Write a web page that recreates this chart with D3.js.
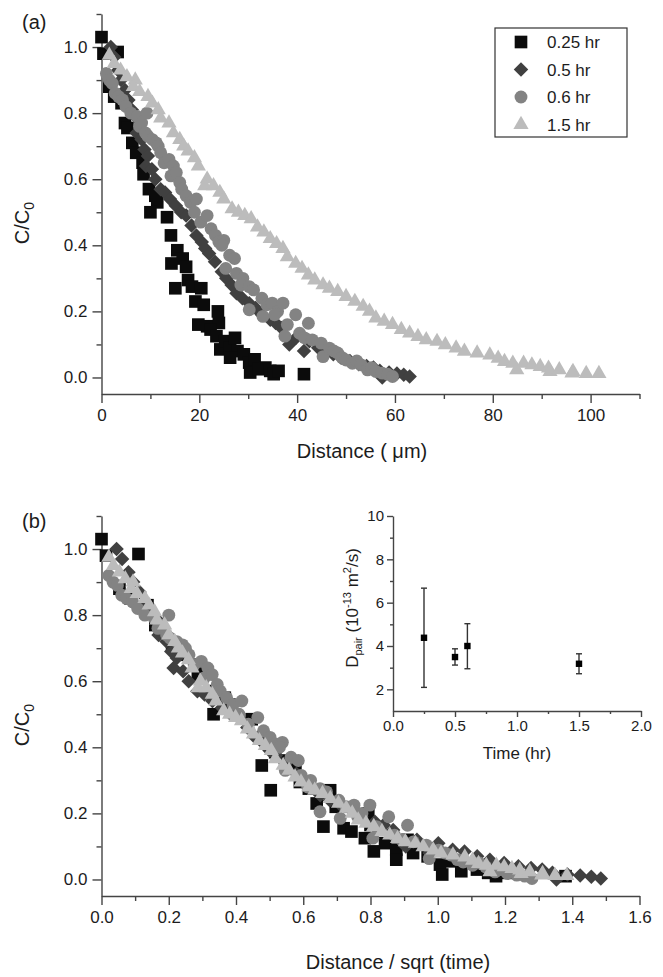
<!DOCTYPE html>
<html>
<head>
<meta charset="utf-8">
<script src="https://cdn.jsdelivr.net/npm/d3@7"></script>
<style>
    body { margin: 0; background: #fff; }
    svg text { font-family: "Liberation Sans", Arial, sans-serif; fill: #1c1c1c; }
    .axis path, .axis line { stroke: #444; stroke-width: 1.4; }
    .axis text { font-size: 17px; }
    .inset .axis text { font-size: 15px; }
</style>
</head>
<body>
<svg id="chart" width="663" height="977"></svg>
<script>
// series labels and the hours they stand for
const seriesLabels = ["0.25 hr", "0.5 hr", "0.6 hr", "1.5 hr"];
const seriesHours = [0.25, 0.5, 0.6, 1.5];

// [distance (um), C/C0]
const points025 = [[0.0,1.03],[0.4,0.98],[3.3,0.985],[1.6,0.88],[2.6,0.85],[4.1,0.83],[4.8,0.77],[5.3,0.755],
    [6.3,0.71],[7.1,0.68],[8.4,0.65],[8.6,0.615],[9.7,0.57],[11.0,0.55],[11.4,0.53],[10.0,0.50],[13.4,0.485],
    [14.2,0.43],[14.3,0.345],[15.5,0.385],[16.6,0.36],[17.3,0.335],[15.1,0.27],[17.7,0.295],[18.5,0.275],
    [20.4,0.27],[19.2,0.23],[20.9,0.22],[19.8,0.16],[21.6,0.155],[23.8,0.20],[24.0,0.165],[22.3,0.145],
    [23.5,0.125],[24.3,0.085],[25.3,0.11],[26.3,0.09],[27.3,0.12],[27.8,0.08],[26.3,0.06],[29.1,0.07],
    [30.2,0.045],[31.3,0.055],[30.4,0.015],[32.1,0.025],[33.5,0.03],[34.5,0.02],[35.2,0.01],[36.2,0.02],[41.4,0.01]];

const points05 = [[1.9,1.0],[2.6,0.97],[3.4,0.93],[4.0,0.90],[4.8,0.87],[5.5,0.84],[6.2,0.81],[6.9,0.79],
    [7.2,0.74],[8.2,0.72],[8.8,0.69],[9.1,0.64],[9.5,0.67],[10.3,0.63],[11.0,0.60],[12.1,0.57],[13.0,0.56],
    [14.0,0.54],[15.2,0.52],[16.3,0.50],[17.3,0.49],[18.4,0.46],[19.4,0.43],[20.5,0.41],[21.2,0.39],[22.0,0.375],
    [23.2,0.35],[24.6,0.32],[25.5,0.30],[26.6,0.28],[27.6,0.255],[28.8,0.24],[30.2,0.225],[31.5,0.21],
    [32.8,0.19],[34.5,0.175],[35.6,0.165],[36.8,0.15],[38.4,0.10],[39.8,0.12],[41.4,0.08],[42.5,0.11],
    [44.3,0.09],[45.8,0.085],[47.4,0.07],[49.0,0.06],[50.8,0.05],[52.6,0.04],[54.2,0.035],[55.6,0.03],
    [56.9,0.02],[57.4,0.0],[58.8,0.015],[60.4,0.012],[61.8,0.008],[63.0,0.003]];

const points06 = [[1.0,0.92],[1.6,0.90],[2.2,0.89],[2.8,0.86],[3.5,0.85],[4.3,0.84],[5.0,0.82],[6.0,0.80],
    [7.3,0.79],[7.8,0.76],[8.2,0.77],[9.3,0.80],[9.0,0.74],[9.5,0.73],[10.4,0.72],[11.2,0.71],[11.6,0.70],
    [12.1,0.68],[12.8,0.65],[13.8,0.66],[14.7,0.64],[14.2,0.61],[15.3,0.62],[16.0,0.59],[16.4,0.57],
    [17.3,0.55],[18.2,0.53],[19.4,0.54],[19.0,0.50],[20.3,0.47],[21.6,0.49],[22.4,0.45],[23.3,0.43],
    [24.0,0.41],[25.0,0.415],[24.6,0.40],[26.2,0.37],[27.2,0.36],[25.4,0.33],[27.6,0.315],[28.9,0.30],
    [28.5,0.28],[30.2,0.275],[31.1,0.265],[32.8,0.24],[30.2,0.205],[33.0,0.185],[33.8,0.22],[34.9,0.225],
    [36.0,0.20],[37.1,0.225],[35.4,0.19],[37.5,0.125],[38.0,0.16],[39.7,0.19],[40.5,0.134],[42.3,0.164],
    [41.5,0.12],[43.1,0.114],[44.9,0.104],[45.3,0.063],[46.6,0.089],[47.5,0.08],[48.3,0.074],[49.2,0.06],
    [50.0,0.053],[51.3,0.043],[52.2,0.05],[53.1,0.038],[54.4,0.023],[55.2,0.03],[56.1,0.018],[57.4,0.013],
    [58.5,0.01],[59.5,0.003]];

const points15 = [[1.6,0.975],[2.6,0.95],[3.9,0.93],[5.2,0.91],[6.9,0.90],[6.5,0.88],[7.8,0.865],[9.5,0.85],
    [10.4,0.83],[11.6,0.81],[12.1,0.785],[13.8,0.77],[14.7,0.74],[16.0,0.72],[16.8,0.70],[17.7,0.685],
    [19.0,0.665],[19.8,0.64],[21.6,0.60],[21.1,0.58],[22.9,0.58],[24.2,0.56],[25.0,0.54],[26.7,0.51],
    [28.0,0.50],[29.3,0.49],[30.6,0.48],[31.9,0.455],[33.2,0.44],[34.5,0.42],[35.8,0.405],[37.1,0.39],
    [38.0,0.365],[39.7,0.345],[41.0,0.33],[42.3,0.31],[43.6,0.295],[45.3,0.28],[46.6,0.27],[48.3,0.26],
    [50.0,0.245],[51.8,0.23],[53.5,0.215],[54.8,0.20],[56.1,0.18],[57.8,0.17],[59.5,0.16],[61.3,0.145],
    [63.0,0.134],[64.7,0.124],[66.4,0.114],[68.6,0.109],[70.3,0.099],[72.5,0.089],[74.2,0.079],[76.8,0.074],
    [79.4,0.068],[81.1,0.058],[82.4,0.048],[84.1,0.043],[84.9,0.023],[86.3,0.043],[88.0,0.038],[89.7,0.033],
    [91.4,0.028],[91.7,0.018],[93.6,0.023],[96.4,0.018],[96.2,0.013],[99.1,0.012],[101.7,0.012]];

const seriesPoints = [points025, points05, points06, points15];

// inset: D_pair vs time, with error bars
const insetTime = [0.25, 0.5, 0.6, 1.5];
const insetD = [4.38, 3.49, 4.0, 3.18];
const insetLow = [2.09, 3.12, 2.95, 2.72];
const insetHigh = [6.67, 3.87, 5.03, 3.64];

// marker look per series
const markerStyles = [
    {type: d3.symbolSquare, size: 160, rotate: 0, fill: "#0b0b0b"},
    {type: d3.symbolSquare, size: 105, rotate: 45, fill: "#404040"},
    {type: d3.symbolCircle, size: 130, rotate: 0, fill: "#838383"},
    {type: d3.symbolTriangle, size: 100, rotate: 0, fill: "#bcbcbc"}
];

const svg = d3.select("#chart");

function marker(style) {
    return d3.symbol().type(style.type).size(style.size)();
}

function drawAxes(g, x, y, cfg) {
    let y0 = y.range()[0], x0 = x.range()[0];
    // minor ticks first, then labelled major ticks
    g.append("g").attr("class", "axis").attr("transform", `translate(0,${y0})`)
        .call(d3.axisBottom(x).tickValues(cfg.xMinor).tickSize(cfg.minorSize).tickSizeOuter(0).tickFormat(""))
        .call(a => a.select(".domain").remove());
    g.append("g").attr("class", "axis").attr("transform", `translate(${x0},0)`)
        .call(d3.axisLeft(y).tickValues(cfg.yMinor).tickSize(cfg.minorSize).tickSizeOuter(0).tickFormat(""))
        .call(a => a.select(".domain").remove());
    g.append("g").attr("class", "axis").attr("transform", `translate(0,${y0})`)
        .call(d3.axisBottom(x).tickValues(cfg.xMajor).tickSize(cfg.majorSize).tickSizeOuter(0)
            .tickPadding(cfg.padX).tickFormat(cfg.xFormat));
    g.append("g").attr("class", "axis").attr("transform", `translate(${x0},0)`)
        .call(d3.axisLeft(y).tickValues(cfg.yMajor).tickSize(cfg.majorSize).tickSizeOuter(0)
            .tickPadding(cfg.padY).tickFormat(cfg.yFormat));
    g.selectAll(".axis text").attr("fill", "#1c1c1c");
}

function drawPanel(cfg) {
    let g = svg.append("g");
    let x = d3.scaleLinear().domain(cfg.xDomain).range([101.5, 639.5]);
    let y = d3.scaleLinear().domain([-0.05, 1.1]).range([cfg.bottom, cfg.bottom - 380]);

    drawAxes(g, x, y, {
        xMajor: cfg.xMajor, xMinor: cfg.xMinor,
        yMajor: d3.range(0, 1.01, 0.2), yMinor: [0.1, 0.3, 0.5, 0.7, 0.9, 1.1],
        majorSize: 9, minorSize: 5, padX: 6, padY: 5,
        xFormat: cfg.xFormat, yFormat: d3.format(".1f")
    });

    seriesPoints.forEach((pts, i) => {
        let st = markerStyles[i];
        g.append("g").selectAll("path")
            .data(pts)
            .join("path")
            .attr("d", marker(st))
            .attr("fill", st.fill)
            .attr("transform", d => `translate(${x(cfg.xValue(d, i))},${y(d[1])}) rotate(${st.rotate})`);
    });

    // panel tag and axis titles
    g.append("text").attr("x", 22).attr("y", cfg.tagY).style("font-size", "20px").text(cfg.tag);
    g.append("text").attr("x", cfg.titleX).attr("y", cfg.titleY)
        .attr("text-anchor", "middle").style("font-size", "20px").text(cfg.xTitle);
    let yt = g.append("text")
        .attr("transform", `translate(29,${cfg.bottom - 171}) rotate(-90)`)
        .attr("text-anchor", "middle").style("font-size", "20px");
    yt.append("tspan").text("C/C");
    yt.append("tspan").attr("dy", 5).style("font-size", "14px").text("0");
    return g;
}

// panel (a): concentration vs distance
drawPanel({
    bottom: 394, tag: "(a)", tagY: 29, xDomain: [0, 110],
    xMajor: d3.range(0, 101, 20), xMinor: d3.range(10, 111, 20),
    xFormat: d3.format("d"), xValue: d => d[0],
    xTitle: "Distance ( \u03bcm)", titleX: 362, titleY: 458
});

// panel (b): same data against distance / sqrt(time in seconds)
drawPanel({
    bottom: 896, tag: "(b)", tagY: 528, xDomain: [0, 1.6],
    xMajor: d3.range(0, 1.61, 0.2), xMinor: d3.range(0.1, 1.6, 0.2),
    xFormat: d3.format(".1f"), xValue: (d, i) => d[0] / Math.sqrt(seriesHours[i] * 3600),
    xTitle: "Distance / sqrt (time)", titleX: 398, titleY: 969
});

// legend of panel (a)
let legend = svg.append("g").attr("transform", "translate(495,28)");
legend.append("rect").attr("width", 132).attr("height", 109)
    .attr("fill", "#fff").attr("stroke", "#333").attr("stroke-width", 1.2);
let rowScale = d3.scalePoint().domain(seriesLabels).range([14, 96.5]);
seriesLabels.forEach((label, i) => {
    let st = markerStyles[i];
    legend.append("path").attr("d", marker(st)).attr("fill", st.fill)
        .attr("transform", `translate(26,${rowScale(label)}) rotate(${st.rotate})`);
    legend.append("text").attr("x", 52).attr("y", rowScale(label)).attr("dy", "0.36em")
        .style("font-size", "17px").text(label);
});

// inset of panel (b)
let inset = svg.append("g").attr("class", "inset");
let ix = d3.scaleLinear().domain([0, 2]).range([393, 641]);
let iy = d3.scaleLinear().domain([1, 10]).range([711, 516]);
drawAxes(inset, ix, iy, {
    xMajor: d3.range(0, 2.01, 0.5), xMinor: [0.25, 0.75, 1.25, 1.75],
    yMajor: [2, 4, 6, 8, 10], yMinor: [3, 5, 7, 9],
    majorSize: 6, minorSize: 3, padX: 3, padY: 3,
    xFormat: d3.format(".1f"), yFormat: d3.format("d")
});
let bars = inset.append("g").selectAll("g").data(insetTime).join("g");
bars.append("line")
    .attr("x1", d => ix(d)).attr("x2", d => ix(d))
    .attr("y1", (d, i) => iy(insetLow[i])).attr("y2", (d, i) => iy(insetHigh[i]))
    .attr("stroke", "#333").attr("stroke-width", 1.4);
[insetLow, insetHigh].forEach(arr => {
    bars.append("line")
        .attr("x1", d => ix(d) - 3).attr("x2", d => ix(d) + 3)
        .attr("y1", (d, i) => iy(arr[i])).attr("y2", (d, i) => iy(arr[i]))
        .attr("stroke", "#333").attr("stroke-width", 1.4);
});
bars.append("rect")
    .attr("x", d => ix(d) - 3.2).attr("y", (d, i) => iy(insetD[i]) - 3.2)
    .attr("width", 6.4).attr("height", 6.4).attr("fill", "#000");

inset.append("text").attr("x", 517).attr("y", 759).attr("text-anchor", "middle")
    .style("font-size", "17px").text("Time (hr)");
let dLabel = inset.append("text")
    .attr("transform", "translate(358,608) rotate(-90)")
    .attr("text-anchor", "middle").style("font-size", "17px");
dLabel.append("tspan").text("D");
dLabel.append("tspan").attr("dy", 4).style("font-size", "11px").text("pair");
dLabel.append("tspan").attr("dy", -4).text(" (10");
dLabel.append("tspan").attr("dy", -7).style("font-size", "11px").text("-13");
dLabel.append("tspan").attr("dy", 7).text(" m");
dLabel.append("tspan").attr("dy", -7).style("font-size", "11px").text("2");
dLabel.append("tspan").attr("dy", 7).text("/s)");
</script>
</body>
</html>
